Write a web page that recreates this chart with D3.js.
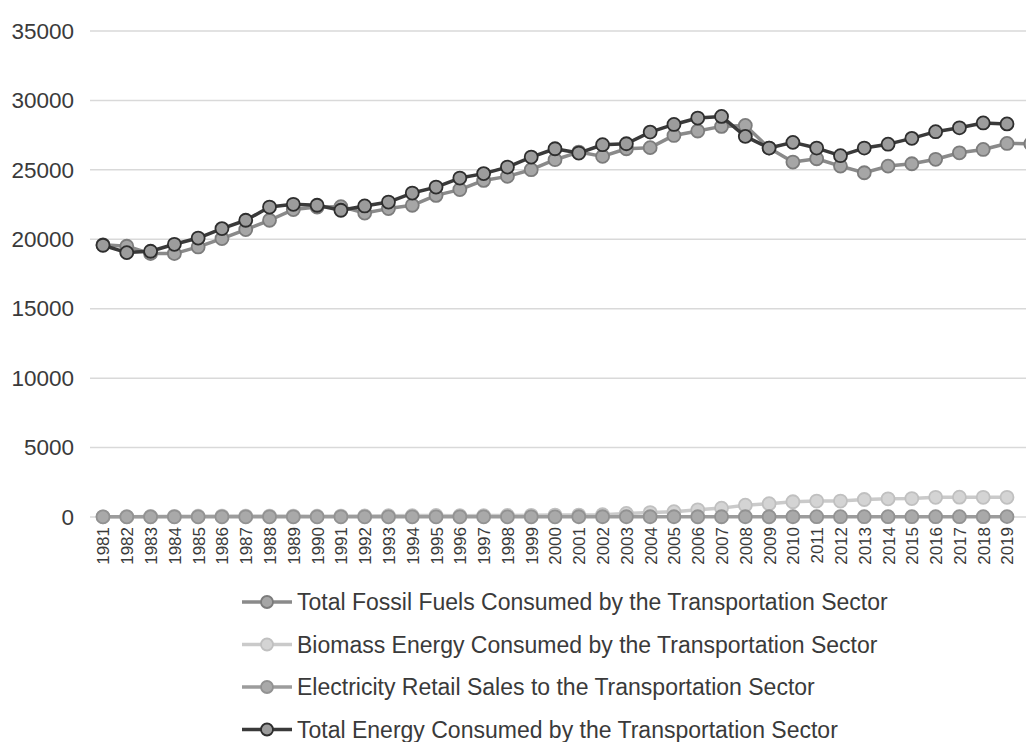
<!DOCTYPE html>
<html>
<head>
<meta charset="utf-8">
<script src="https://cdn.jsdelivr.net/npm/d3@7"></script>
<style>
  body { margin: 0; background: #fff; }
  svg { display: block; font-family: "Liberation Sans", Arial, sans-serif; }
</style>
</head>
<body>
<div id="chart"></div>
<script>
// years on the category axis
var years = [1981,1982,1983,1984,1985,1986,1987,1988,1989,1990,1991,1992,1993,1994,1995,1996,1997,1998,1999,2000,
             2001,2002,2003,2004,2005,2006,2007,2008,2009,2010,2011,2012,2013,2014,2015,2016,2017,2018,2019];
var yTicks = [0,5000,10000,15000,20000,25000,30000,35000];

// fossil series has one more point than the axis (runs off the right edge)
var fossil = [19600,19500,18970,18970,19450,20050,20700,21370,22140,22320,22350,21890,22210,22450,23160,23580,24240,24530,25010,25730,
              26280,25970,26520,26600,27480,27800,28130,28200,26570,25560,25800,25270,24790,25270,25440,25760,26230,26470,26900,26880];
var biomass = [10,20,40,50,60,70,70,70,70,60,70,80,90,100,110,90,100,110,120,140,
               140,170,260,320,380,520,640,850,960,1100,1150,1150,1260,1310,1330,1420,1430,1420,1420];
var electricity = [11,11,11,12,12,12,12,12,12,13,13,14,14,14,14,15,15,15,16,16,
                   17,17,17,17,17,18,18,19,18,19,20,20,20,21,22,23,24,25,26];
var total = [19570,19040,19140,19640,20090,20770,21370,22320,22520,22450,22090,22400,22680,23330,23760,24410,24730,25200,25920,26520,
             26210,26810,26880,27720,28270,28730,28850,27410,26570,26980,26570,26020,26570,26850,27270,27750,28030,28380,28310];

var seriesNames = ["Total Fossil Fuels Consumed by the Transportation Sector",
                   "Biomass Energy Consumed by the Transportation Sector",
                   "Electricity Retail Sales to the Transportation Sector",
                   "Total Energy Consumed by the Transportation Sector"];

var styles = [
  {line:"#8a8a8a", fill:"#a6a6a6", stroke:"#7c7c7c"},
  {line:"#cacaca", fill:"#d4d4d4", stroke:"#c0c0c0"},
  {line:"#9c9c9c", fill:"#a9a9a9", stroke:"#929292"},
  {line:"#3a3a3a", fill:"#9c9c9c", stroke:"#2e2e2e"}
];

var svgWidth = 1026, svgHeight = 742;
var svg = d3.select("#chart").append("svg")
    .attr("width", svgWidth)
    .attr("height", svgHeight);

var x = d3.scaleLinear().domain([1981, 2019]).range([103, 1007]);
var y = d3.scaleLinear().domain([0, 35000]).range([517, 31]);

// gridlines
svg.append("g").selectAll("line")
    .data(yTicks)
    .enter().append("line")
    .attr("x1", 90).attr("x2", 1026)
    .attr("y1", d => y(d)).attr("y2", d => y(d))
    .attr("stroke", "#d9d9d9")
    .attr("stroke-width", 1.5);

// y axis labels
var leftAxis = d3.axisLeft(y).tickValues(yTicks).tickSize(0).tickPadding(0).tickFormat(d3.format("d"));
var yAxisG = svg.append("g").attr("transform", "translate(74,0)").call(leftAxis);
yAxisG.select(".domain").remove();
yAxisG.selectAll("text")
    .attr("font-size", "22.5px")
    .attr("font-family", "'Liberation Sans', Arial, sans-serif")
    .attr("fill", "#3a3a3a");

// x axis labels (rotated)
var bottomAxis = d3.axisBottom(x).tickValues(years).tickSize(0).tickFormat(d3.format("d"));
var xAxisG = svg.append("g").attr("transform", "translate(0,527)").call(bottomAxis);
xAxisG.select(".domain").remove();
xAxisG.selectAll("text")
    .attr("font-size", "17px")
    .attr("font-family", "'Liberation Sans', Arial, sans-serif")
    .attr("fill", "#3a3a3a")
    .attr("transform", "rotate(-90)")
    .attr("x", 0).attr("y", 0).attr("dy", "0.35em")
    .attr("text-anchor", "end");

var allSeries = [
  fossil.map((v, i) => ({year: 1981 + i, value: v})),
  biomass.map((v, i) => ({year: years[i], value: v})),
  electricity.map((v, i) => ({year: years[i], value: v})),
  total.map((v, i) => ({year: years[i], value: v}))
];

var line = d3.line().x(d => x(d.year)).y(d => y(d.value));

allSeries.forEach(function(data, k) {
  var s = styles[k];
  var g = svg.append("g");
  g.append("path")
      .datum(data)
      .attr("d", line)
      .attr("fill", "none")
      .attr("stroke", s.line)
      .attr("stroke-width", 3.5)
      .attr("stroke-linejoin", "round");
  g.selectAll("circle")
      .data(data)
      .enter().append("circle")
      .attr("cx", d => x(d.year))
      .attr("cy", d => y(d.value))
      .attr("r", 6.5)
      .attr("fill", s.fill)
      .attr("stroke", s.stroke)
      .attr("stroke-width", 1.8);
});

// legend
var legend = svg.append("g").selectAll("g")
    .data(seriesNames)
    .enter().append("g")
    .attr("transform", (d, i) => `translate(242,${602 + i * 42.5})`);
legend.append("line")
    .attr("x1", 0).attr("x2", 50)
    .attr("stroke", (d, i) => styles[i].line)
    .attr("stroke-width", 3.5);
legend.append("circle")
    .attr("cx", 25).attr("r", 6)
    .attr("fill", (d, i) => styles[i].fill)
    .attr("stroke", (d, i) => styles[i].stroke)
    .attr("stroke-width", 1.8);
legend.append("text")
    .attr("x", 55)
    .attr("dy", "0.35em")
    .attr("font-size", "23px")
    .attr("font-family", "'Liberation Sans', Arial, sans-serif")
    .attr("fill", "#3a3a3a")
    .text(d => d);
</script>
</body>
</html>
